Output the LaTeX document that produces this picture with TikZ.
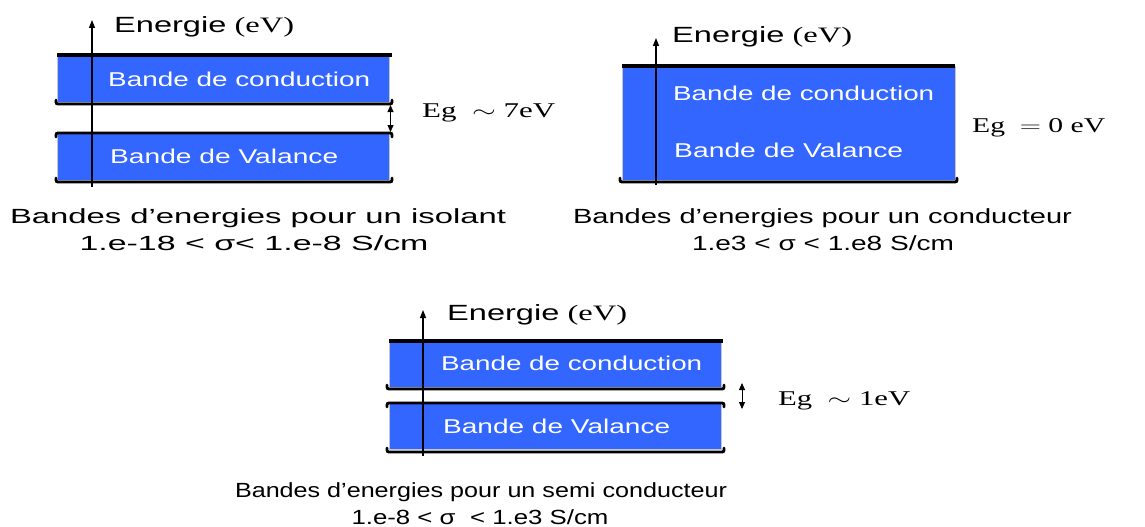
\documentclass[tikz,border=0pt]{standalone}
\usepackage{fontspec}
\setmainfont{Liberation Serif}
\setsansfont{Liberation Sans}
\usetikzlibrary{arrows.meta}
\definecolor{bandblue}{RGB}{51,102,255}
% set a text at its own font size, stretched horizontally to a given width (pt)
\newlength\fitlen
\newcommand\fitw[2]{\settowidth\fitlen{#2}\pgfmathsetmacro\fitr{#1/\fitlen}\scalebox{\fitr}[1]{#2}}
\tikzset{
  band/.style={fill=bandblue, draw=gray!45, line width=0.6pt},
  topedge/.style={line width=3.6pt},
  edge/.style={line width=2.8pt, line cap=round},
  axis/.style={line width=1.1pt, -{Triangle[width=6pt,length=8pt]}},
  gap/.style={line width=0.8pt, {Triangle[width=6pt,length=7pt]}-{Triangle[width=6pt,length=7pt]}},
  lbl/.style={text=white, font=\sffamily\fontsize{20}{24}\selectfont, inner sep=0pt, anchor=base west},
  capt/.style={font=\sffamily\fontsize{20.5}{24}\selectfont, inner sep=0pt, anchor=base},
  axlbl/.style={font=\fontsize{22}{26}\selectfont, inner sep=0pt, anchor=base west},
  eglbl/.style={font=\rmfamily\fontsize{21}{25}\selectfont, inner sep=0pt, anchor=base west},
}
\newcommand\energie{{\sffamily Energie} {\rmfamily (eV)}}
\begin{document}
\begin{tikzpicture}[x=1pt,y=-1pt]
\useasboundingbox (0,0) rectangle (1145,527);

% ---------- isolant ----------
\path[band] (57,55) rectangle (389,102);
\path[band] (57,133) rectangle (389,180);
\draw[topedge] (57,55) -- (392,55);
\draw[edge] (56,100) .. controls (56,104) .. (60,104) -- (388,104) .. controls (392,104) .. (392,100);
\draw[edge] (56,137) .. controls (56,133) .. (60,133) -- (388,133) .. controls (392,133) .. (392,137);
\draw[edge] (56,178) .. controls (56,182) .. (60,182) -- (388,182) .. controls (392,182) .. (392,178);
\coordinate (i0) at (92,187);
\coordinate (i1) at (92,20);
\draw[axis] (i0) -- (i1);
\coordinate (ig0) at (390.5,105);
\coordinate (ig1) at (390.5,132);
\draw[gap] (ig0) -- (ig1);
\node[axlbl] (iax) at (114,33) {\fitw{180}{\energie}};
\node[lbl] (icb) at (108,86) {\fitw{262}{Bande de conduction}};
\node[lbl] (ivb) at (110,163) {\fitw{228}{Bande de Valance}};
\node[eglbl] (ieg) at (422,117) {\fitw{133}{Eg\ \ $\sim$ 7eV}};
\node[capt] (ic1) at (258,223) {\fitw{496}{Bandes d’energies pour un isolant}};
\node[capt] (ic2) at (254,250) {\fitw{349}{1.e-18 < σ< 1.e-8 S/cm}};

% ---------- conducteur ----------
\path[band] (622,66) rectangle (955,180);
\draw[topedge] (622,66) -- (955,66);
\draw[edge] (620,178) .. controls (620,182) .. (624,182) -- (953,182) .. controls (957,182) .. (957,178);
\coordinate (c0) at (656,185);
\coordinate (c1) at (656,38);
\draw[axis] (c0) -- (c1);
\node[axlbl] (cax) at (672,43) {\fitw{180}{\energie}};
\node[lbl] (ccb) at (673,100) {\fitw{261}{Bande de conduction}};
\node[lbl] (cvb) at (674,157) {\fitw{229}{Bande de Valance}};
\node[eglbl] (ceg) at (972,132) {\fitw{133}{Eg\ \ $=$ 0 eV}};
\node[capt] (cc1) at (822.5,223) {\fitw{499}{Bandes d’energies pour un conducteur}};
\node[capt] (cc2) at (823,250) {\fitw{262}{1.e3 < σ < 1.e8 S/cm}};

% ---------- semi conducteur ----------
\path[band] (389,341) rectangle (721,387);
\path[band] (389,403) rectangle (721,449);
\draw[topedge] (389,341) -- (723,341);
\draw[edge] (387,385) .. controls (387,389) .. (391,389) -- (720,389) .. controls (724,389) .. (724,385);
\draw[edge] (387,407) .. controls (387,403) .. (391,403) -- (720,403) .. controls (724,403) .. (724,407);
\draw[edge] (387,448) .. controls (387,452) .. (391,452) -- (720,452) .. controls (724,452) .. (724,448);
\coordinate (s0) at (423,456);
\coordinate (s1) at (423,310);
\draw[axis] (s0) -- (s1);
\coordinate (sg0) at (742,383);
\coordinate (sg1) at (742,409);
\draw[gap] (sg0) -- (sg1);
\node[axlbl] (sax) at (447,320) {\fitw{180}{\energie}};
\node[lbl] (scb) at (441,370) {\fitw{261}{Bande de conduction}};
\node[lbl] (svb) at (443,433) {\fitw{227}{Bande de Valance}};
\node[eglbl] (seg) at (778,405) {\fitw{132}{Eg\ \ $\sim$ 1eV}};
\node[capt] (sc1) at (481,497) {\fitw{492}{Bandes d’energies pour un semi conducteur}};
\node[capt] (sc2) at (480,524) {\fitw{257}{1.e-8 < σ\ \ < 1.e3 S/cm}};
\end{tikzpicture}
\end{document}
